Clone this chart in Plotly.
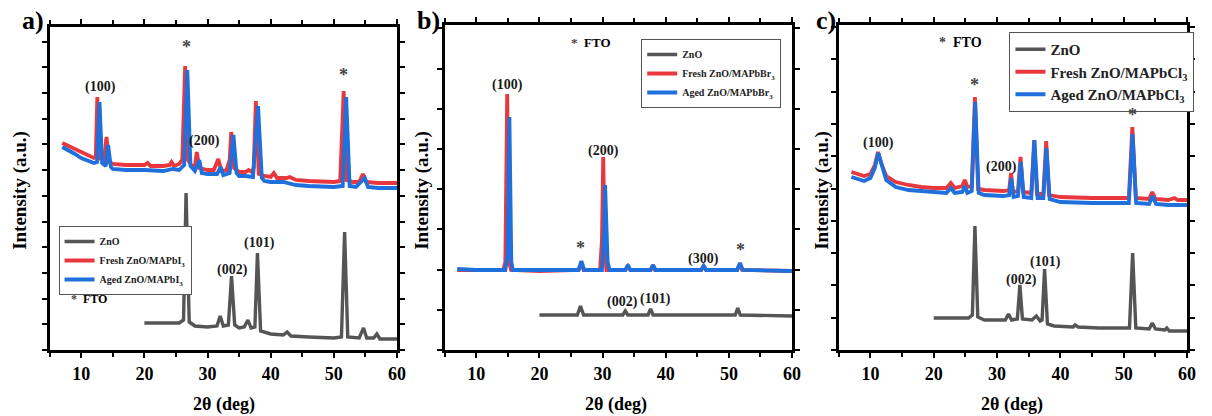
import plotly.graph_objects as go

W, H = 1212, 416

# ---------------- Panel a (MAPbI3) ----------------
a_fresh_x = [7.0,8.0,9.0,10.0,11.0,12.0,12.3,12.55,12.9,13.6,14.0,14.4,15.0,17.0,20.0,20.5,21.0,23.0,24.0,24.3,24.7,25.5,26.0,26.45,26.9,27.5,28.0,28.3,28.7,30.0,31.0,31.7,32.2,33.0,33.5,33.75,34.2,35.0,36.0,36.5,37.0,37.3,37.65,38.1,39.0,40.0,40.5,41.0,42.5,43.0,44.0,46.0,50.0,51.0,51.55,52.0,53.0,54.0,54.6,55.1,57.0,60.0]
a_fresh_y = [207,204,200,197,194,192,193,253,192,188,213,188,186,185,185,187,184,184,185,188,184,186,190,284,190,184,184,198,182,180,180,191,179,180,190,218,182,178,178,180,178,182,249,176,174,173,177,172,172,173,170,169,168,169,259,170,168,168,176,168,167,167]

a_aged_x = [7.0,8.0,9.0,10.0,11.0,12.0,12.5,12.9,13.3,13.9,14.25,14.7,15.0,17.0,20.0,23.0,24.5,25.5,26.3,26.8,27.3,28.0,28.7,29.1,30.0,31.5,32.1,32.5,33.5,34.1,34.6,35.0,36.0,37.2,38.0,38.6,39.0,40.0,42.0,44.0,46.0,50.0,51.4,51.95,52.5,53.5,54.9,55.4,57.0,60.0]
a_aged_y = [203,200,196,192,189,187,188,248,187,184,205,183,181,180,180,179,181,180,185,280,184,179,190,177,176,176,183,175,177,215,177,174,174,173,244,172,169,168,168,165,164,163,164,253,164,163,172,163,162,162]

a_zno_x = [20.0,22.0,24.0,25.5,26.2,26.6,27.1,28.0,30.0,31.5,32.0,32.5,33.3,33.8,34.3,35.0,35.8,36.4,36.9,37.5,37.9,38.4,40.0,42.0,42.6,43.2,46.0,50.0,51.2,51.7,52.2,54.0,54.7,55.2,56.3,56.8,57.3,60.0]
a_zno_y = [27,27,27,27,30,157,28,24,23,24,34,24,25,74,25,22,23,30,22,23,97,19,16,15,18,14,13,12,13,118,13,12,22,12,12,16,11,11]

# ---------------- Panel b (MAPbBr3) ----------------
b_fresh_x = [7.0,10.0,14.3,14.6,14.9,15.2,15.5,20.0,26.2,26.6,27.0,29.6,29.9,30.1,30.35,30.6,33.6,34.0,34.4,37.6,37.95,38.3,45.6,46.0,46.4,51.3,51.7,52.1,60.0]
b_fresh_y = [80,80,80,88,256,88,80,79,80,87,80,80,110,193,105,80,80,84,80,80,85,80,80,84,80,80,86,80,79]

b_aged_x = [7.0,10.0,14.6,14.95,15.25,15.55,15.8,20.0,26.2,26.65,27.1,29.9,30.25,30.4,30.6,30.8,31.1,33.6,34.0,34.4,37.6,38.0,38.4,45.6,46.0,46.4,51.3,51.75,52.2,60.0]
b_aged_y = [81,80,80,95,233,88,80,80,80,89,80,80,117,165,120,88,80,80,85,80,80,85,80,80,84,80,80,87,80,79]

b_zno_x = [20.0,26.0,26.5,27.0,33.2,33.6,34.0,37.2,37.6,38.0,51.0,51.4,51.8,60.0]
b_zno_y = [35,35,44,35,35,39,35,35,41,35,35,42,35,34]

# ---------------- Panel c (MAPbCl3) ----------------
c_fresh_x = [7.0,8.0,9.0,10.0,10.7,11.2,11.8,12.5,14.0,16.0,18.0,20.0,22.0,22.7,23.3,24.5,24.9,25.3,26.0,26.5,27.0,28.0,31.0,31.9,32.2,32.5,33.3,33.7,34.1,35.4,35.85,36.3,37.3,37.75,38.2,40.0,45.0,50.8,51.35,51.9,54.0,54.5,55.0,57.0,58.0,58.5,60.0]
c_fresh_y = [178,176,174,176,185,198,185,174,168,165,163,162,162,167,162,164,170,163,164,253,161,160,159,160,177,158,159,193,158,157,210,156,156,209,155,153,152,152,223,152,151,158,151,150,152,150,150]

c_aged_x = [7.0,8.0,9.0,10.0,10.7,11.25,11.9,12.5,14.0,16.0,18.0,20.0,22.0,22.7,23.3,24.5,24.9,25.3,26.0,26.55,27.1,28.0,31.0,31.9,32.25,32.6,33.3,33.75,34.2,35.4,35.9,36.4,37.3,37.8,38.3,40.0,45.0,50.8,51.4,51.95,54.0,54.55,55.1,57.0,60.0]
c_aged_y = [173,171,169,172,182,197,182,170,163,160,159,158,157,162,157,158,164,157,159,248,157,155,154,155,172,153,154,188,153,152,210,152,152,202,151,148,147,147,216,147,146,154,146,145,145]

c_zno_x = [20.0,22.0,25.5,26.1,26.5,26.95,28.0,30.0,31.3,31.8,32.3,33.2,33.6,34.0,35.5,36.2,36.8,37.1,37.5,37.95,39.0,42.0,42.3,42.8,46.0,50.9,51.4,51.9,54.0,54.5,55.0,56.5,56.8,57.2,60.0]
c_zno_y = [32,32,32,35,124,33,30,30,30,36,30,31,65,31,30,34,29,30,81,26,24,23,25,23,22,22,97,22,21,27,21,20,22,19,19]

# peak labels: (text, x, y)
a_labels = [("*", 26.6, 303), ("(100)", 13.0, 263), ("(200)", 29.5, 209), ("*", 51.6, 275), ("(002)", 34.0, 80), ("(101)", 38.2, 107)]
b_labels = [("(100)", 15.0, 265), ("(200)", 30.1, 199), ("*", 26.5, 102), ("(300)", 45.9, 91), ("*", 51.9, 100), ("(002)", 33.2, 48), ("(101)", 38.4, 51)]
c_labels = [("(100)", 11.3, 207), ("*", 26.5, 265), ("(200)", 30.7, 183), ("*", 51.4, 235), ("(002)", 33.8, 70), ("(101)", 37.6, 88)]

names_a = ["ZnO", "Fresh ZnO/MAPbI<sub>3</sub>", "Aged ZnO/MAPbI<sub>3</sub>"]
names_b = ["ZnO", "Fresh ZnO/MAPbBr<sub>3</sub>", "Aged ZnO/MAPbBr<sub>3</sub>"]
names_c = ["ZnO", "Fresh ZnO/MAPbCl<sub>3</sub>", "Aged ZnO/MAPbCl<sub>3</sub>"]

GRAY = "#555555"
RED = "#e8383d"
BLUE = "#1f6fdc"
FONT = "Liberation Serif, Times New Roman, serif"

def px(x):
    return x / W

def py(y):
    return 1 - y / H

fig = go.Figure()

panels = [
    ("x", "y", "legend", names_a, (a_zno_x, a_zno_y), (a_fresh_x, a_fresh_y), (a_aged_x, a_aged_y)),
    ("x2", "y2", "legend2", names_b, (b_zno_x, b_zno_y), (b_fresh_x, b_fresh_y), (b_aged_x, b_aged_y)),
    ("x3", "y3", "legend3", names_c, (c_zno_x, c_zno_y), (c_fresh_x, c_fresh_y), (c_aged_x, c_aged_y)),
]

for xa, ya, lg, names, zno, fresh, aged in panels:
    fig.add_trace(go.Scatter(x=zno[0], y=zno[1], mode="lines", name=names[0],
                             line=dict(color=GRAY, width=3.4), xaxis=xa, yaxis=ya, legend=lg))
    fig.add_trace(go.Scatter(x=fresh[0], y=fresh[1], mode="lines", name=names[1],
                             line=dict(color=RED, width=3.8), xaxis=xa, yaxis=ya, legend=lg))
    fig.add_trace(go.Scatter(x=aged[0], y=aged[1], mode="lines", name=names[2],
                             line=dict(color=BLUE, width=3.8), xaxis=xa, yaxis=ya, legend=lg))

# axes
geom = [  # (left, right, top, bottom) px, y-range top, y dtick
    (50, 400, 27, 350, 323, 25.7),
    (448, 798, 25, 350, 325, 40.2),
    (845, 1196, 25, 350, 325, 32.3),
]

for i, (l, r, t, b, ytop, ydt) in enumerate(geom):
    sfx = "" if i == 0 else str(i + 1)
    fig.update_layout(**{
        "xaxis" + sfx: dict(
            domain=[px(l), px(r)], range=[5, 60], anchor="y" + sfx,
            showline=True, linecolor="black", linewidth=2.8, mirror="ticks",
            ticks="outside", ticklen=5, tickwidth=2.2, tickcolor="black",
            tick0=0, dtick=10, showgrid=False, zeroline=False,
            minor=dict(ticks="outside", ticklen=4, tickwidth=2.2, tickcolor="black", dtick=5, tick0=0, showgrid=False),
            tickfont=dict(family=FONT, size=18, color="black", weight="bold"),
        ),
        "yaxis" + sfx: dict(
            domain=[py(b), py(t)], range=[0, ytop], anchor="x" + sfx,
            showline=True, linecolor="black", linewidth=2.8, mirror="ticks",
            ticks="outside", ticklen=5, tickwidth=2.2, tickcolor="black",
            tick0=0, dtick=ydt, showticklabels=False, showgrid=False, zeroline=False,
        ),
    })

annotations = []
for sfx, labels in (("", a_labels), ("2", b_labels), ("3", c_labels)):
    for txt, x, y in labels:
        star = txt == "*"
        annotations.append(dict(
            x=x, y=y, xref="x" + sfx, yref="y" + sfx, text=txt, showarrow=False,
            font=dict(family=FONT, size=18 if star else 14, color="#444444" if star else "#1a1a1a", weight="bold"),
            xanchor="center", yanchor="middle"))

# panel letters, axis titles, FTO notes
for letter, lx in (("a)", 33), ("b)", 432), ("c)", 832)):
    annotations.append(dict(x=px(lx), y=py(20), xref="paper", yref="paper", text=letter, showarrow=False,
                            font=dict(family=FONT, size=26, color="black", weight="bold"),
                            xanchor="center", yanchor="middle"))
for tx in (20, 425, 828):
    annotations.append(dict(x=px(tx), y=py(190), xref="paper", yref="paper", text="Intensity (a.u.)",
                            showarrow=False, textangle=-90,
                            font=dict(family=FONT, size=19, color="black", weight="bold"),
                            xanchor="center", yanchor="middle"))
for tx in (226, 621, 1020):
    annotations.append(dict(x=px(tx), y=py(404), xref="paper", yref="paper", text="2θ (deg)",
                            showarrow=False, font=dict(family=FONT, size=18, color="black", weight="bold"),
                            xanchor="center", yanchor="middle"))
for tx, ty, fs in ((90, 299, 12), (595, 43, 13), (968, 43, 14)):
    annotations.append(dict(x=px(tx), y=py(ty), xref="paper", yref="paper",
                            text="<span style='color:#444'>*</span>  FTO",
                            showarrow=False, font=dict(family=FONT, size=fs, color="black", weight="bold"),
                            xanchor="center", yanchor="middle"))

leg_common = dict(bgcolor="white", bordercolor="#555555", borderwidth=1,
                  xanchor="left", yanchor="top", tracegroupgap=0)

fig.update_layout(
    width=W, height=H, autosize=False,
    margin=dict(l=0, r=0, t=0, b=0),
    paper_bgcolor="white", plot_bgcolor="white",
    showlegend=True,
    annotations=annotations,
    legend=dict(x=px(59), y=py(226), font=dict(family=FONT, size=10, color="#222", weight="bold"), **leg_common),
    legend2=dict(x=px(646), y=py(39), font=dict(family=FONT, size=10, color="#222", weight="bold"), **leg_common),
    legend3=dict(x=px(1017), y=py(32), font=dict(family=FONT, size=15, color="#222", weight="bold"), **leg_common),
)

fig.write_html("out.html", config={"displayModeBar": False},
               post_script="document.body.style.margin='0';document.body.style.overflow='hidden';")
